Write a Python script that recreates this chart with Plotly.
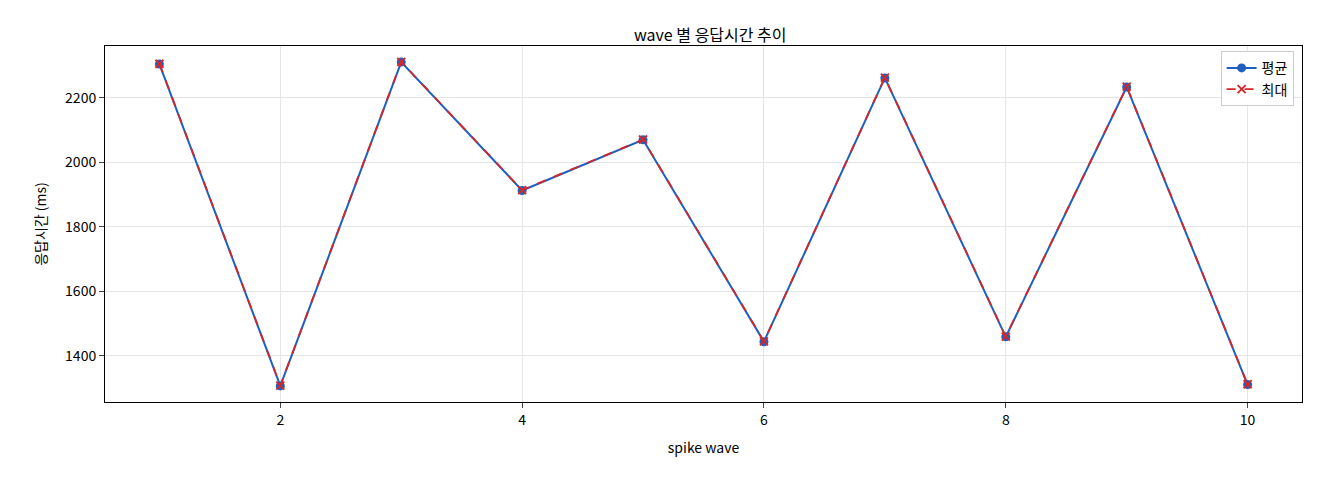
import plotly.graph_objects as go

waves = [1, 2, 3, 4, 5, 6, 7, 8, 9, 10]
avg_ms = [2305, 1307, 2311, 1913, 2070, 1444, 2262, 1459, 2234, 1311]
max_ms = [2306, 1308, 2312, 1914, 2071, 1445, 2263, 1460, 2235, 1312]

fig = go.Figure()
fig.add_trace(go.Scatter(x=waves, y=avg_ms, mode="lines+markers", name="평균",
                         line=dict(color="#1f5fbf", width=2), marker=dict(size=9, color="#1f5fbf")))
fig.add_trace(go.Scatter(x=waves, y=max_ms, mode="lines+markers", name="최대",
                         line=dict(color="#d62728", width=1.8, dash="dash"),
                         marker=dict(symbol="x-thin", size=8, color="#d62728", line=dict(width=1.8, color="#d62728"))))
fig.update_layout(
    width=1320, height=480, plot_bgcolor="white", paper_bgcolor="white",
    font=dict(family="Noto Sans CJK KR", size=14, color="black"),
    title=dict(text="wave 별 응답시간 추이", x=0.532, xanchor="center", y=0.955, font=dict(size=16)),
    margin=dict(l=97, r=26, t=38, b=86),
    legend=dict(x=0.993, y=0.985, xanchor="right", yanchor="top", bordercolor="#cccccc", borderwidth=1,
                bgcolor="white", font=dict(size=14)),
    showlegend=True,
)
fig.update_xaxes(title_text="spike wave", title_font=dict(size=14), tickfont=dict(size=14),
                 range=[0.55, 10.45], tickvals=[2, 4, 6, 8, 10],
                 showgrid=True, gridcolor="#e5e5e5", showline=True, linecolor="black", mirror=True,
                 ticks="outside", zeroline=False)
fig.update_yaxes(title_text="응답시간 (ms)", title_font=dict(size=14), tickfont=dict(size=14),
                 range=[1257, 2361], tickvals=[1400, 1600, 1800, 2000, 2200],
                 showgrid=True, gridcolor="#e5e5e5", showline=True, linecolor="black", mirror=True,
                 ticks="outside", zeroline=False)
fig.write_html("out.html")
